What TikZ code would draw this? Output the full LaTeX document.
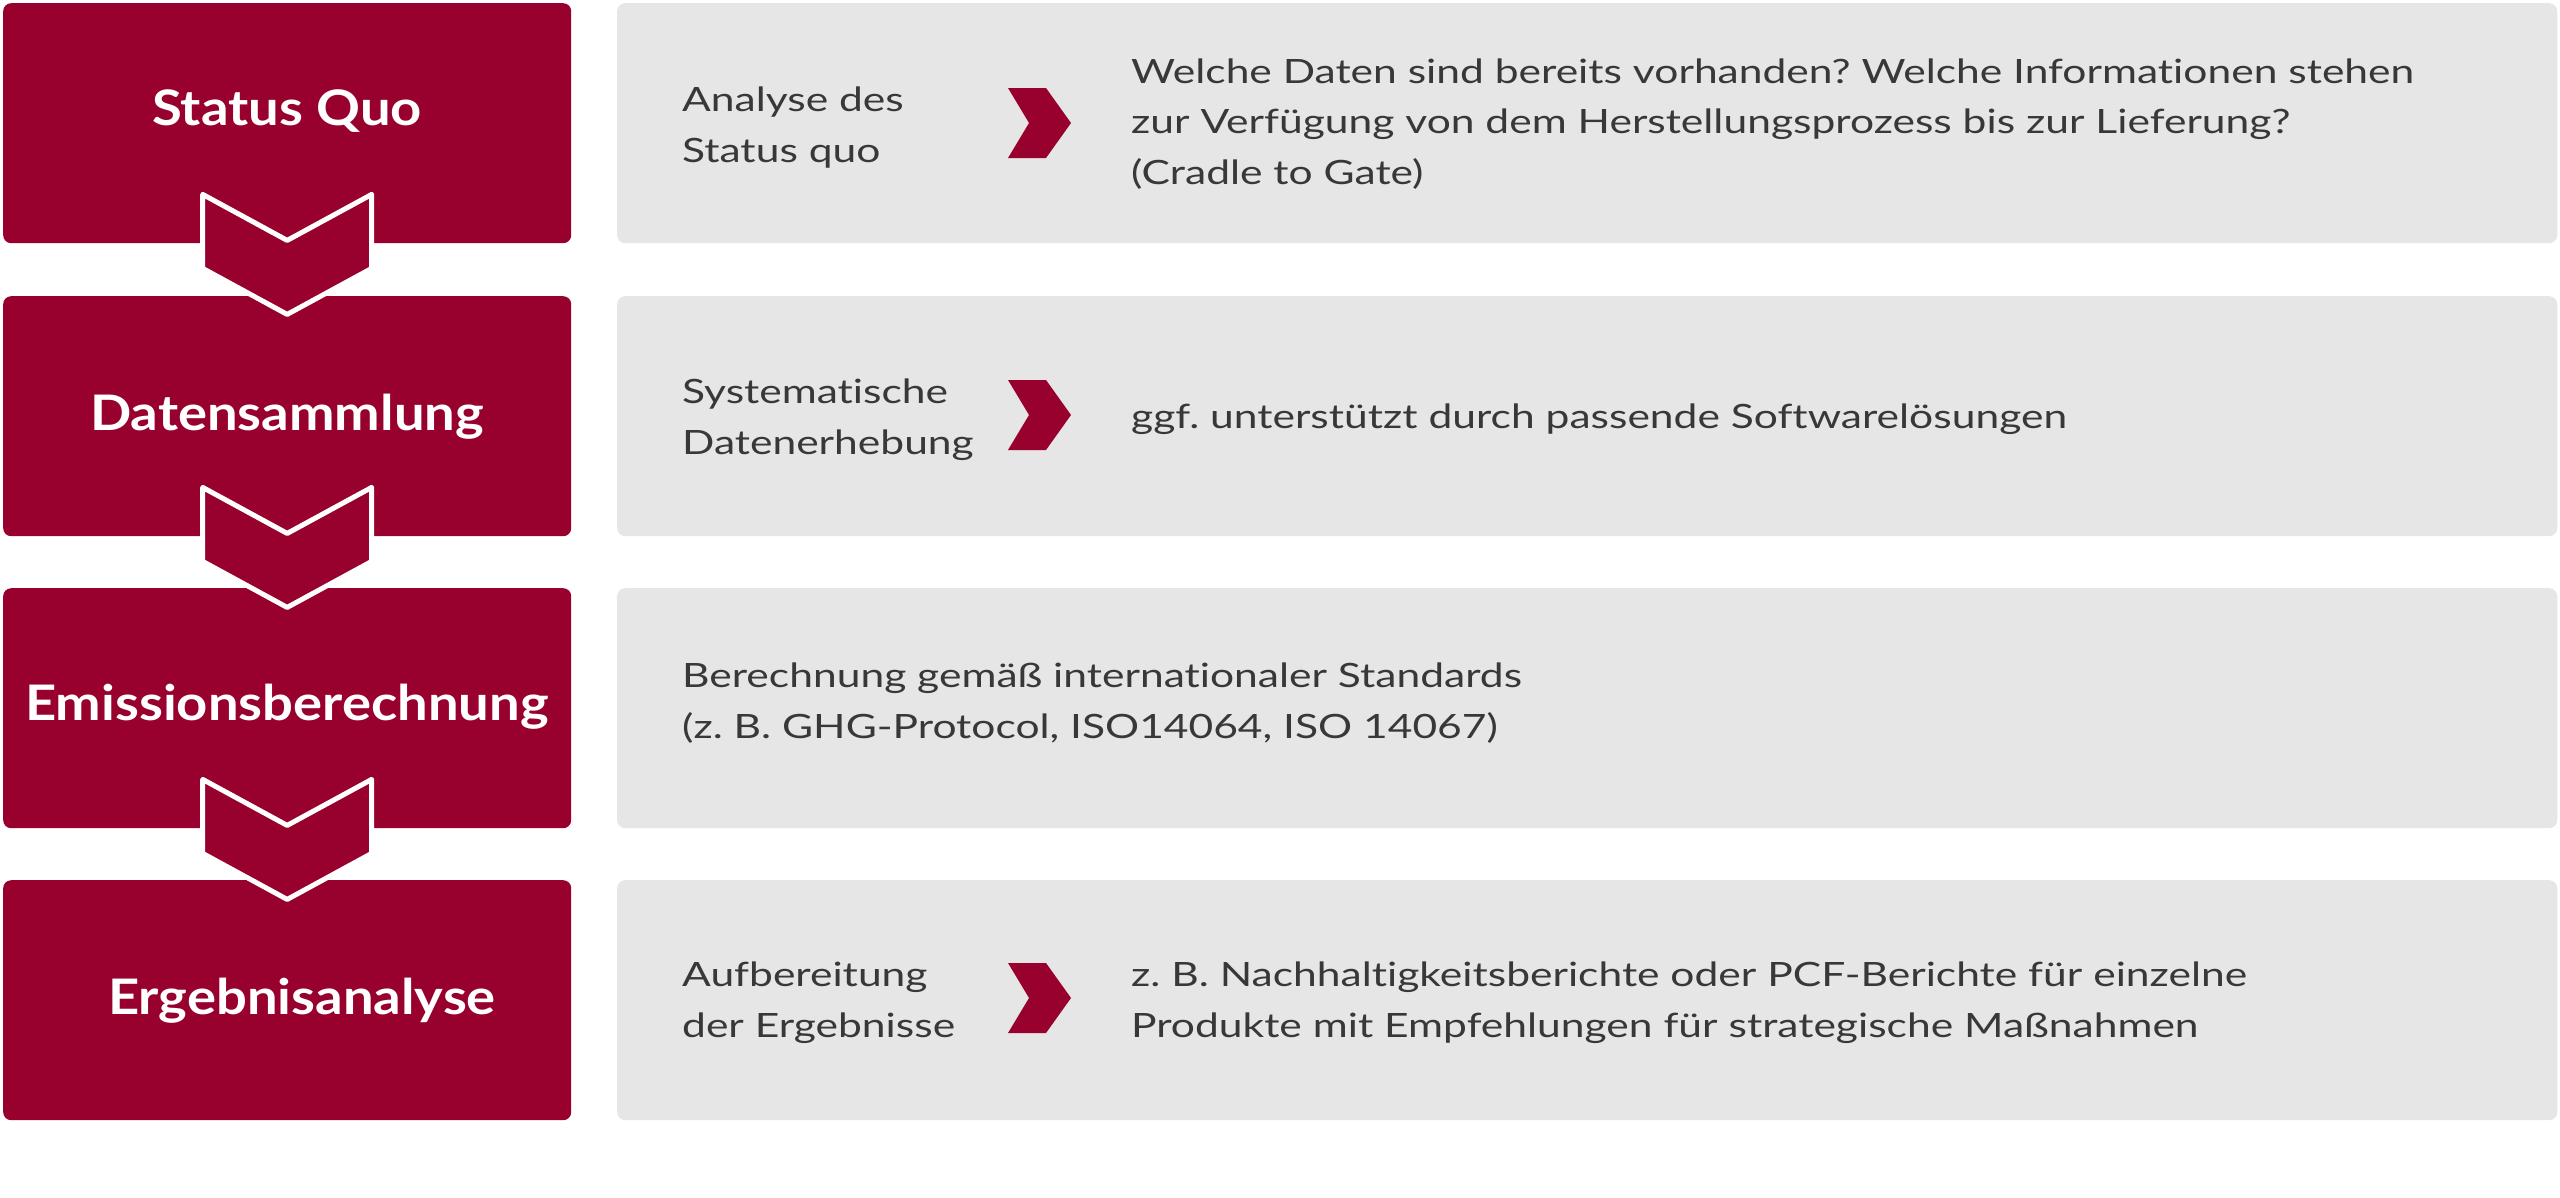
\documentclass[tikz,border=0pt]{standalone}
\usepackage{fontspec}
\setmainfont{Lato}
\newfontfamily\bodyfont{Lato}[FakeStretch=1.27, Ligatures=NoCommon]
\newfontfamily\stagefont{Lato}[FakeStretch=1.11, Ligatures=NoCommon]
\usetikzlibrary{calc}
\definecolor{brand}{HTML}{98002E}
\definecolor{panel}{HTML}{E6E6E6}
\definecolor{ink}{HTML}{383838}
\frenchspacing
\tikzset{
  stagebox/.style={fill=brand, rounded corners=8bp, minimum width=568bp, minimum height=240bp, anchor=north west, inner sep=0},
  panelbox/.style={fill=panel, rounded corners=8bp, minimum width=1940bp, minimum height=240bp, anchor=north west, inner sep=0},
  stagelabel/.style={text=white, font=\stagefont\bfseries\fontsize{49bp}{59bp}\selectfont, anchor=base, inner sep=0},
  bodytext/.style={text=ink, font=\bodyfont\fontsize{33.5bp}{50.5bp}\selectfont, align=left, anchor=base west, inner sep=0},
  downchev/.style={fill=brand, draw=white, line width=5bp, line join=round},
  rightchev/.style={fill=brand}
}
\begin{document}
\begin{tikzpicture}[x=1bp,y=-1bp]
\useasboundingbox (0,0) rectangle (2560,1197);
% boxes
\foreach \i/\t in {1/3,2/296,3/588,4/880}{
  \node[stagebox] (s\i) at (3,\t) {};
  \node[panelbox] (p\i) at (617,\t) {};
}
% down chevrons
\foreach \i in {1,2,3}{
  \draw[downchev] ($(s\i.south)+(-84.5,-49)$) -- ($(s\i.south)+(0,-3)$) -- ($(s\i.south)+(84.5,-49)$)
     -- ($(s\i.south)+(84.5,25)$) -- ($(s\i.south)+(0,71)$) -- ($(s\i.south)+(-84.5,25)$) -- cycle;
}
% stage labels
\node[stagelabel] (l1) at (287,125) {Status Quo};
\node[stagelabel] (l2) at (287,430) {Datensammlung};
\node[stagelabel] (l3) at (287,720) {Emissionsberechnung};
\node[stagelabel] (l4) at (302,1014) {Ergebnisanalyse};
% right chevrons
\foreach \n/\c in {c1/123,c2/415,c4/998}{
  \coordinate (\n) at (1008,\c);
  \fill[rightchev] ($(\n)+(0,-35)$) -- ($(\n)+(38,-35)$) -- ($(\n)+(63,0)$) -- ($(\n)+(38,35)$) -- ($(\n)+(0,35)$) -- ($(\n)+(21,0)$) -- cycle;
}
% texts (base anchor = baseline of the last line)
\node[bodytext] (a1) at (682,162) {Analyse des\\Status quo};
\node[bodytext] (b1) at (1131,184) {Welche Daten sind bereits vorhanden? Welche Informationen stehen\\zur Verfügung von dem Herstellungsprozess bis zur Lieferung?\\(Cradle to Gate)};
\node[bodytext] (a2) at (682,454) {Systematische\\Datenerhebung};
\node[bodytext] (b2) at (1131,428) {ggf. unterstützt durch passende Softwarelösungen};
\node[bodytext] (a3) at (682,738) {Berechnung gemäß internationaler Standards\\(z. B. GHG-Protocol, ISO14064, ISO 14067)};
\node[bodytext] (a4) at (682,1037) {Aufbereitung\\der Ergebnisse};
\node[bodytext] (b4) at (1131,1037) {z. B. Nachhaltigkeitsberichte oder PCF-Berichte für einzelne\\Produkte mit Empfehlungen für strategische Maßnahmen};
\end{tikzpicture}
\end{document}
